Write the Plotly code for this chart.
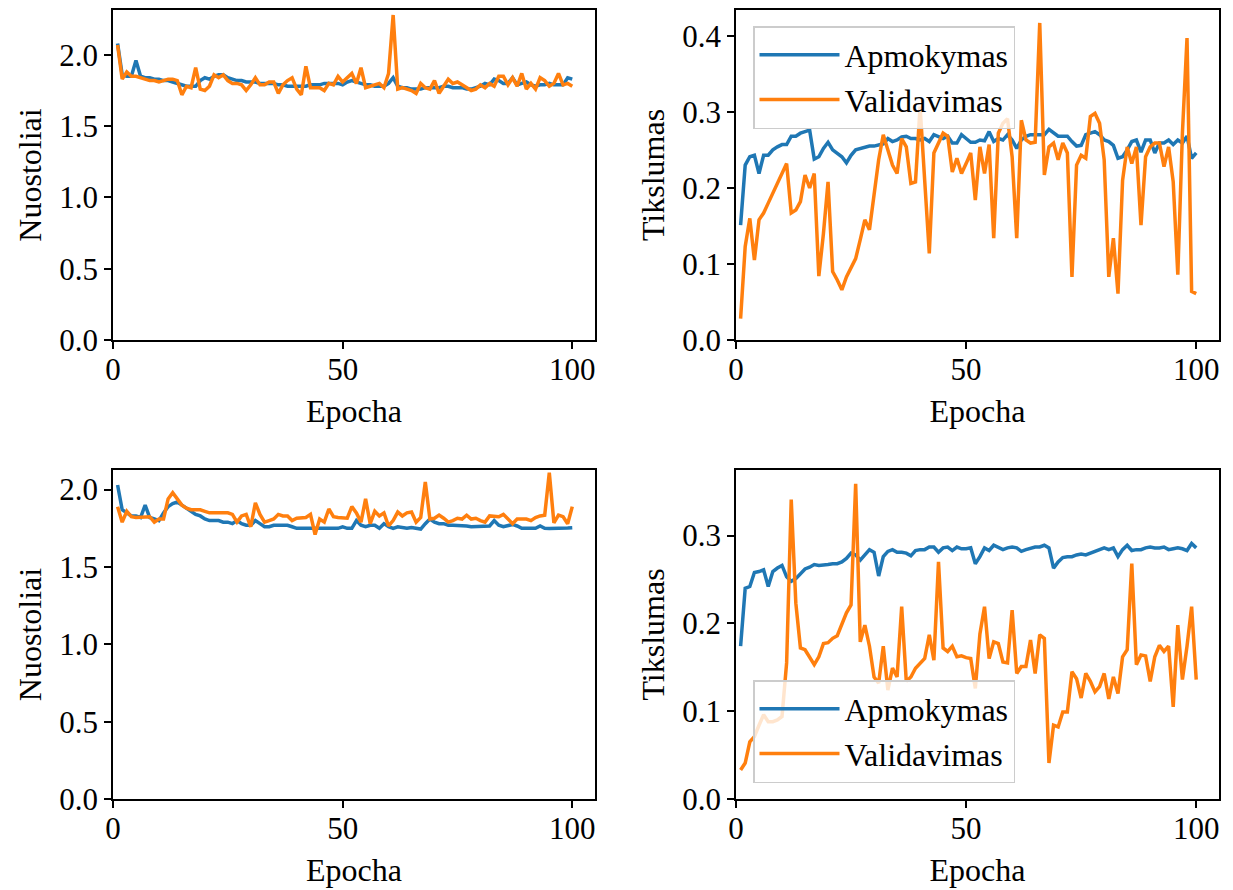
import plotly.graph_objects as go

epochs = list(range(1, 101))

# Top-left: loss (run 1)
train_loss_1 = [
    2.08, 1.86, 1.85, 1.85, 1.96, 1.85, 1.84, 1.84, 1.83, 1.83,
    1.82, 1.82, 1.81, 1.80, 1.79, 1.78, 1.78, 1.78, 1.82, 1.84,
    1.83, 1.85, 1.86, 1.86, 1.84, 1.83, 1.82, 1.82, 1.81, 1.81,
    1.81, 1.80, 1.80, 1.80, 1.80, 1.79, 1.79, 1.78, 1.78, 1.78,
    1.78, 1.78, 1.79, 1.79, 1.79, 1.80, 1.80, 1.80, 1.80, 1.79,
    1.81, 1.82, 1.81, 1.80, 1.79, 1.79, 1.78, 1.78, 1.78, 1.80,
    1.84, 1.78, 1.77, 1.77, 1.76, 1.76, 1.76, 1.77, 1.77, 1.77,
    1.77, 1.78, 1.78, 1.77, 1.77, 1.77, 1.76, 1.76, 1.77, 1.78,
    1.80, 1.79, 1.83, 1.82, 1.80, 1.80, 1.84, 1.79, 1.80, 1.81,
    1.79, 1.78, 1.79, 1.79, 1.80, 1.79, 1.79, 1.79, 1.84, 1.83,
]
val_loss_1 = [
    2.07, 1.83, 1.88, 1.85, 1.85, 1.84, 1.83, 1.82, 1.82, 1.81,
    1.82, 1.83, 1.83, 1.82, 1.72, 1.78, 1.77, 1.91, 1.76, 1.75,
    1.78, 1.86, 1.84, 1.86, 1.82, 1.80, 1.80, 1.79, 1.75, 1.79,
    1.84, 1.79, 1.79, 1.81, 1.81, 1.73, 1.79, 1.82, 1.84, 1.76,
    1.72, 1.92, 1.77, 1.77, 1.77, 1.75, 1.80, 1.79, 1.85, 1.81,
    1.84, 1.87, 1.80, 1.91, 1.77, 1.78, 1.79, 1.80, 1.77, 1.87,
    2.28, 1.76, 1.77, 1.76, 1.75, 1.73, 1.80, 1.77, 1.76, 1.82,
    1.73, 1.78, 1.83, 1.80, 1.81, 1.79, 1.77, 1.75, 1.76, 1.79,
    1.77, 1.80, 1.78, 1.85, 1.85, 1.79, 1.84, 1.78, 1.87, 1.76,
    1.80, 1.76, 1.84, 1.82, 1.78, 1.80, 1.87, 1.79, 1.80, 1.78,
]

# Top-right: accuracy (run 1)
train_acc_1 = [
    0.151, 0.230, 0.241, 0.243, 0.219, 0.243, 0.243, 0.250, 0.254, 0.257,
    0.257, 0.268, 0.268, 0.272, 0.274, 0.276, 0.238, 0.241, 0.252, 0.260,
    0.250, 0.246, 0.241, 0.233, 0.243, 0.250, 0.252, 0.254, 0.255, 0.255,
    0.257, 0.258, 0.265, 0.261, 0.263, 0.267, 0.268, 0.265, 0.265, 0.263,
    0.265, 0.261, 0.270, 0.267, 0.265, 0.268, 0.259, 0.259, 0.270, 0.265,
    0.260, 0.260, 0.263, 0.262, 0.274, 0.261, 0.265, 0.263, 0.270, 0.263,
    0.252, 0.263, 0.268, 0.270, 0.270, 0.270, 0.270, 0.277, 0.272, 0.268,
    0.268, 0.268, 0.261, 0.255, 0.256, 0.270, 0.272, 0.274, 0.270, 0.263,
    0.261, 0.256, 0.239, 0.241, 0.250, 0.261, 0.263, 0.247, 0.263, 0.263,
    0.246, 0.259, 0.259, 0.263, 0.257, 0.263, 0.259, 0.268, 0.239, 0.246,
]
val_acc_1 = [
    0.028, 0.123, 0.160, 0.105, 0.158, 0.167, 0.180, 0.193, 0.208, 0.219,
    0.232, 0.167, 0.171, 0.182, 0.217, 0.200, 0.219, 0.084, 0.140, 0.208,
    0.090, 0.079, 0.066, 0.083, 0.096, 0.107, 0.132, 0.158, 0.145, 0.193,
    0.237, 0.270, 0.250, 0.230, 0.219, 0.265, 0.254, 0.206, 0.208, 0.307,
    0.210, 0.114, 0.246, 0.259, 0.272, 0.268, 0.221, 0.239, 0.219, 0.232,
    0.246, 0.184, 0.254, 0.219, 0.257, 0.134, 0.272, 0.285, 0.291, 0.241,
    0.134, 0.289, 0.263, 0.259, 0.260, 0.417, 0.217, 0.254, 0.259, 0.237,
    0.259, 0.246, 0.083, 0.230, 0.243, 0.239, 0.294, 0.298, 0.285, 0.237,
    0.083, 0.134, 0.061, 0.210, 0.254, 0.232, 0.254, 0.151, 0.241, 0.254,
    0.259, 0.259, 0.228, 0.254, 0.208, 0.086, 0.272, 0.397, 0.064, 0.061,
]

# Bottom-left: loss (run 2)
train_loss_2 = [
    2.03, 1.87, 1.85, 1.83, 1.83, 1.82, 1.90, 1.82, 1.81, 1.80,
    1.85, 1.89, 1.91, 1.92, 1.90, 1.88, 1.86, 1.84, 1.83, 1.81,
    1.80, 1.80, 1.80, 1.79, 1.79, 1.78, 1.80, 1.78, 1.77, 1.77,
    1.80, 1.78, 1.76, 1.76, 1.77, 1.77, 1.77, 1.77, 1.76, 1.75,
    1.75, 1.75, 1.75, 1.75, 1.75, 1.75, 1.75, 1.75, 1.75, 1.76,
    1.75, 1.75, 1.80, 1.77, 1.76, 1.77, 1.77, 1.75, 1.78, 1.76,
    1.75, 1.76, 1.755, 1.75, 1.755, 1.75, 1.745, 1.78, 1.81, 1.79,
    1.78, 1.78, 1.77, 1.77, 1.77, 1.765, 1.765, 1.76, 1.76, 1.76,
    1.76, 1.765, 1.80, 1.77, 1.76, 1.77, 1.775, 1.765, 1.75, 1.75,
    1.75, 1.75, 1.765, 1.75, 1.748, 1.748, 1.748, 1.75, 1.752, 1.754,
]
val_loss_2 = [
    1.89, 1.79, 1.86, 1.825, 1.82, 1.82, 1.82, 1.825, 1.79, 1.81,
    1.81, 1.94, 1.98, 1.94, 1.90, 1.88, 1.87, 1.87, 1.87, 1.86,
    1.85, 1.85, 1.85, 1.85, 1.85, 1.84, 1.79, 1.83, 1.84, 1.76,
    1.915, 1.84, 1.79, 1.80, 1.81, 1.84, 1.83, 1.83, 1.80, 1.815,
    1.82, 1.82, 1.84, 1.71, 1.81, 1.79, 1.875, 1.825, 1.82, 1.82,
    1.815, 1.89, 1.85, 1.79, 1.94, 1.78, 1.86, 1.83, 1.85, 1.765,
    1.80, 1.855, 1.83, 1.85, 1.855, 1.79, 1.82, 2.05, 1.81, 1.815,
    1.835, 1.815, 1.79, 1.80, 1.815, 1.81, 1.835, 1.81, 1.815, 1.80,
    1.79, 1.83, 1.83, 1.825, 1.84, 1.81, 1.78, 1.81, 1.81, 1.81,
    1.80, 1.82, 1.83, 1.835, 2.11, 1.785, 1.835, 1.825, 1.78, 1.89,
]

# Bottom-right: accuracy (run 2)
train_acc_2 = [
    0.174, 0.240, 0.242, 0.258, 0.259, 0.261, 0.242, 0.259, 0.263, 0.266,
    0.253, 0.248, 0.251, 0.257, 0.262, 0.264, 0.267, 0.266, 0.267, 0.267,
    0.268, 0.268, 0.270, 0.274, 0.280, 0.278, 0.272, 0.278, 0.284, 0.281,
    0.254, 0.276, 0.282, 0.284, 0.281, 0.281, 0.280, 0.277, 0.283, 0.284,
    0.284, 0.287, 0.287, 0.281, 0.286, 0.287, 0.283, 0.287, 0.285, 0.285,
    0.286, 0.268, 0.276, 0.286, 0.283, 0.289, 0.287, 0.284, 0.286, 0.287,
    0.286, 0.282, 0.284, 0.286, 0.287, 0.287, 0.289, 0.286, 0.263, 0.270,
    0.275, 0.276, 0.276, 0.278, 0.279, 0.278, 0.280, 0.283, 0.285, 0.286,
    0.284, 0.286, 0.276, 0.284, 0.289, 0.283, 0.284, 0.284, 0.286, 0.287,
    0.286, 0.286, 0.287, 0.284, 0.285, 0.286, 0.285, 0.283, 0.291, 0.286,
]
val_acc_2 = [
    0.033, 0.041, 0.065, 0.071, 0.084, 0.096, 0.088, 0.088, 0.090, 0.094,
    0.155, 0.341, 0.223, 0.172, 0.170, 0.162, 0.153, 0.162, 0.177, 0.178,
    0.183, 0.186, 0.200, 0.212, 0.221, 0.359, 0.179, 0.198, 0.174, 0.139,
    0.132, 0.174, 0.124, 0.149, 0.139, 0.219, 0.134, 0.139, 0.149, 0.155,
    0.160, 0.187, 0.158, 0.270, 0.172, 0.168, 0.174, 0.162, 0.163, 0.161,
    0.160, 0.126, 0.188, 0.219, 0.160, 0.179, 0.177, 0.156, 0.155, 0.215,
    0.143, 0.151, 0.151, 0.181, 0.143, 0.187, 0.183, 0.041, 0.084, 0.082,
    0.099, 0.099, 0.145, 0.137, 0.115, 0.143, 0.134, 0.122, 0.128, 0.143,
    0.114, 0.139, 0.120, 0.162, 0.170, 0.268, 0.153, 0.164, 0.163, 0.134,
    0.162, 0.175, 0.168, 0.174, 0.105, 0.198, 0.136, 0.174, 0.219, 0.136,
]

x_ticks = [0, 50, 100]
loss_ticks = [0.0, 0.5, 1.0, 1.5, 2.0]
acc_ticks_1 = [0.0, 0.1, 0.2, 0.3, 0.4]
acc_ticks_2 = [0.0, 0.1, 0.2, 0.3]

series_names = ["Apmokymas", "Validavimas"]
x_label = "Epocha"
loss_label = "Nuostoliai"
acc_label = "Tikslumas"

BLUE = "#1f77b4"
ORANGE = "#ff7f0e"
FONT = "Liberation Serif"
W, H = 1233, 890

fig = go.Figure()

panels = [
    ("x", "y", train_loss_1, val_loss_1, None),
    ("x2", "y2", train_acc_1, val_acc_1, "legend"),
    ("x3", "y3", train_loss_2, val_loss_2, None),
    ("x4", "y4", train_acc_2, val_acc_2, "legend2"),
]
for xa, ya, tr, va, lg in panels:
    for name, data, col in ((series_names[0], tr, BLUE), (series_names[1], va, ORANGE)):
        kw = dict(x=epochs, y=data, mode="lines", name=name, xaxis=xa, yaxis=ya,
                  line=dict(color=col, width=3.5), hoverinfo="skip")
        if lg is None:
            kw["showlegend"] = False
        else:
            kw["legend"] = lg
        fig.add_trace(go.Scatter(**kw))

def xd(a, b):
    return [a / W, b / W]

def yd(top, bottom):
    return [1 - bottom / H, 1 - top / H]

L = (113, 595)
R = (736, 1219)
T = (10, 340)
B = (470, 799)

FS = 31
axis_common = dict(
    showline=True, linecolor="black", linewidth=1.5, mirror=True,
    ticks="outside", ticklen=7, tickwidth=1.5, tickcolor="black",
    showgrid=False, zeroline=False, automargin=False,
    tickfont=dict(family=FONT, size=FS, color="black"),
)
title_font = dict(family=FONT, size=32, color="black")

layout_axes = {}
specs = [
    ("xaxis", "yaxis", L, T, [0, 2.315], loss_ticks, loss_label, "y", "x"),
    ("xaxis2", "yaxis2", R, T, [0, 0.434], acc_ticks_1, acc_label, "y2", "x2"),
    ("xaxis3", "yaxis3", L, B, [0, 2.127], loss_ticks, loss_label, "y3", "x3"),
    ("xaxis4", "yaxis4", R, B, [0, 0.3747], acc_ticks_2, acc_label, "y4", "x4"),
]
for xk, yk, xdom, ydom, yr, yt, ylab, anchor_y, anchor_x in specs:
    layout_axes[xk] = dict(
        axis_common, domain=xd(*xdom), range=[0, 104.95], anchor=anchor_y,
        tickvals=x_ticks, ticktext=[str(v) for v in x_ticks],
        ticklabelstandoff=-6,
        title=dict(text=x_label, font=title_font, standoff=14),
    )
    layout_axes[yk] = dict(
        axis_common, domain=yd(*ydom), range=yr, anchor=anchor_x,
        tickvals=yt, ticktext=[f"{v:.1f}" for v in yt],
        title=dict(text=ylab, font=title_font, standoff=8),
    )

legend_common = dict(
    bgcolor="rgba(255,255,255,0.8)", bordercolor="#cccccc", borderwidth=1.5,
    font=dict(family=FONT, size=32, color="black"),
    xanchor="left", yanchor="top", itemwidth=80,
)

fig.update_layout(
    width=W, height=H,
    margin=dict(l=0, r=0, t=0, b=0),
    paper_bgcolor="white", plot_bgcolor="white",
    font=dict(family=FONT, color="black"),
    legend=dict(legend_common, x=753 / W, y=1 - 26 / H),
    legend2=dict(legend_common, x=753 / W, y=1 - 680 / H),
    **layout_axes,
)

fig.write_html(
    "out.html",
    config={"displayModeBar": False},
    post_script="document.body.style.margin='0';document.body.style.overflow='hidden';",
)
